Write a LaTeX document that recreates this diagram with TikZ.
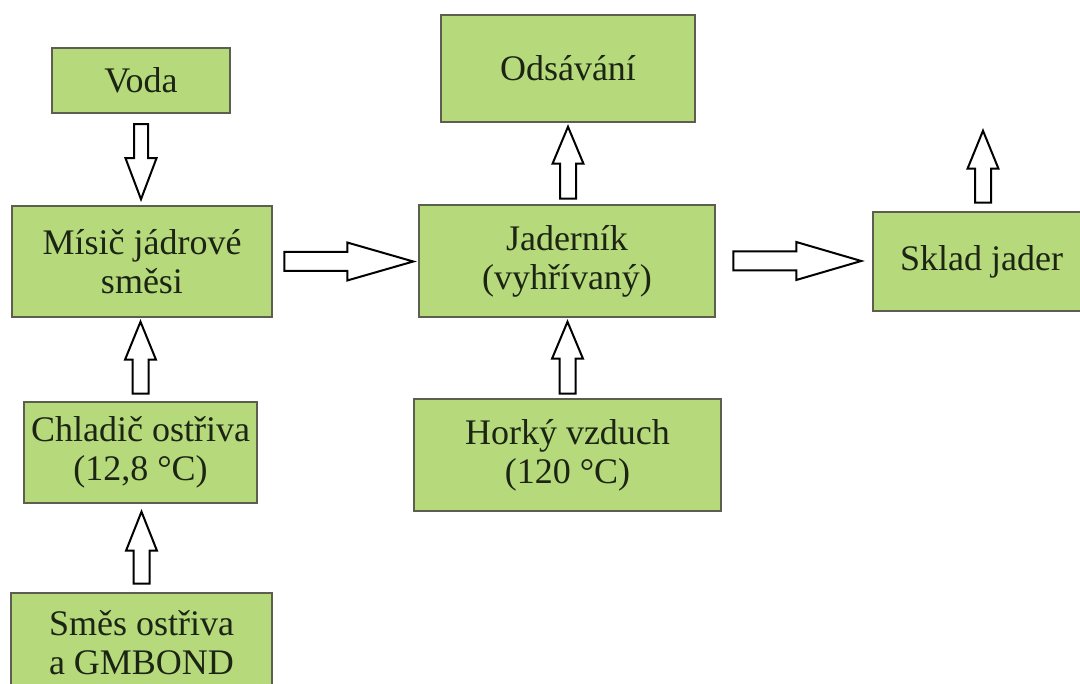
\documentclass[tikz,border=0pt]{standalone}
\usepackage{fontspec}
\setmainfont{Liberation Serif}
\usetikzlibrary{calc}
\definecolor{boxfill}{HTML}{B5D97B}
\definecolor{boxdraw}{HTML}{5C5F50}
\definecolor{txt}{HTML}{1C2414}
\tikzset{
  box/.style={draw=boxdraw, line width=2.5pt, fill=boxfill, align=center, text=txt,
    font=\fontsize{36}{39}\selectfont, inner sep=0pt},
  barrow/.style={draw=black, line width=2pt, fill=white, line join=miter},
}
% block arrows: #1 start coordinate, #2 shaft length, #3 head length
\newcommand{\uparr}[3]{\draw[barrow] (#1) ++(-8,0) -- ++(0,-#2) -- ++(-7.5,0) -- ++(15.5,-#3) -- ++(15.5,#3) -- ++(-7.5,0) -- ++(0,#2) -- cycle;}
\newcommand{\downarr}[3]{\draw[barrow] (#1) ++(-7,0) -- ++(0,#2) -- ++(-8.5,0) -- ++(15.5,#3) -- ++(15.5,-#3) -- ++(-8.5,0) -- ++(0,-#2) -- cycle;}
\newcommand{\rightarr}[3]{\draw[barrow] (#1) ++(0,-9.5) -- ++(#2,0) -- ++(0,-9.5) -- ++(#3,19) -- ++(-#3,19) -- ++(0,-9.5) -- ++(-#2,0) -- cycle;}
\begin{document}
\begin{tikzpicture}[x=1pt,y=-1pt]
\useasboundingbox (0,0) rectangle (1080,684);
\clip (0,0) rectangle (1080,684);
\node[box, minimum width=178, minimum height=65] (voda) at (141,80.5) {Voda};
\node[box, minimum width=260, minimum height=111] (misic) at (142,261.5) {Mísič jádrové\\směsi};
\node[box, minimum width=233, minimum height=101] (chladic) at (140.5,452.5) {Chladič ostřiva\\(12,8 °C)};
\node[box, minimum width=261, minimum height=100] (smes) at (141.5,643) {Směs ostřiva\\a GMBOND};
\node[box, minimum width=254, minimum height=107] (odsavani) at (568,68.5) {Odsávání};
\node[box, minimum width=296, minimum height=112] (jadernik) at (567,261) {Jaderník\\(vyhřívaný)};
\node[box, minimum width=307, minimum height=112] (horky) at (567.5,455) {Horký vzduch\\(120 °C)};
\node[box, minimum width=217, minimum height=99] (sklad) at (981.5,261.5) {Sklad jader};

\coordinate (a1) at ($(voda.south)+(0,10)$);
\coordinate (a2) at ($(chladic.north)+(0,-7)$);
\coordinate (a3) at ($(smes.north)+(0,-8)$);
\coordinate (a4) at ($(misic.east)+(11,0)$);
\coordinate (a5) at ($(jadernik.east)+(17,0)$);
\coordinate (a6) at ($(jadernik.north)+(1,-5)$);
\coordinate (a7) at ($(horky.north)+(0,-4)$);
\coordinate (a8) at ($(sklad.north)+(1.5,-8)$);
\downarr{a1}{34}{41}
\uparr{a2}{34}{38}
\uparr{a3}{33}{39}
\rightarr{a4}{63}{66}
\rightarr{a5}{63}{65}
\uparr{a6}{35}{37}
\uparr{a7}{35}{37}
\uparr{a8}{34}{38}
\end{tikzpicture}
\end{document}
